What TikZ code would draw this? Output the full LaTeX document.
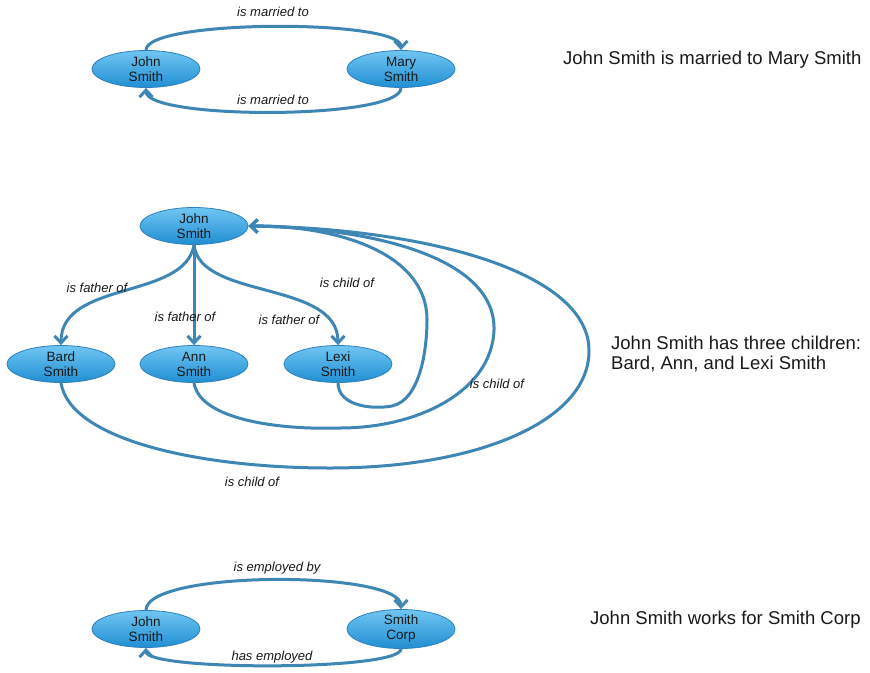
\documentclass[tikz,border=0pt]{standalone}
\usepackage{fontspec}
\setmainfont{Liberation Sans}
\usetikzlibrary{arrows.meta,shapes.geometric}
\definecolor{edgeblue}{RGB}{62,134,180}
\definecolor{nodetop}{RGB}{112,198,242}
\definecolor{nodebot}{RGB}{32,142,210}
\definecolor{nodeline}{RGB}{48,128,188}
\definecolor{ink}{RGB}{25,25,25}
\tikzset{
  person/.style={ellipse, minimum width=108pt, minimum height=37pt, inner sep=0pt,
    top color=nodetop, bottom color=nodebot, draw=nodeline, line width=0.8pt,
    align=center, font=\fontsize{13.5}{15}\selectfont, text=ink},
  rel/.style={draw=edgeblue, line width=3pt, line cap=round,
    -{Straight Barb[length=7pt,width=13pt]}},
  rellabel/.style={font=\fontsize{13}{15}\selectfont\itshape, text=ink, inner sep=1pt},
  caption/.style={font=\fontsize{18.5}{20}\selectfont, text=ink, align=left, inner sep=0pt},
}
\begin{document}
\begin{tikzpicture}[x=1pt,y=-1pt]
\useasboundingbox (0,0) rectangle (870,672);

% --- marriage ---
\node[person] (js1) at (146,69) {John\\Smith};
\node[person] (ms)  at (401,69) {Mary\\Smith};
\draw[rel] (js1.north) .. controls (146,19) and (401,19) .. (ms.north);
\draw[rel] (ms.south) .. controls (401,120) and (146,120) .. (js1.south);
\node[rellabel] (lm1) at (273,12) {is married to};
\node[rellabel] (lm2) at (273,100) {is married to};
\node[caption, anchor=base west] (c1) at (563,64) {John Smith is married to Mary Smith};

% --- family ---
\node[person] (js2)  at (194,226) {John\\Smith};
\node[person] (bard) at (61,364)  {Bard\\Smith};
\node[person] (ann)  at (194,364) {Ann\\Smith};
\node[person] (lexi) at (338,364) {Lexi\\Smith};

\draw[rel] (js2.south) .. controls (185,300) and (61,280) .. (bard.north);
\draw[rel] (js2.south) -- (ann.north);
\draw[rel] (js2.south) .. controls (200,300) and (338,280) .. (lexi.north);

\draw[rel] (lexi.south) .. controls (338,405) and (370,410) .. (392,406)
  .. controls (420,400) and (427,350) .. (427,320)
  .. controls (427,250) and (330,225) .. (js2.east);
\draw[rel] (ann.south) .. controls (200,420) and (280,430) .. (340,428)
  .. controls (420,428) and (492,390) .. (494,330)
  .. controls (496,260) and (380,228) .. (js2.east);
\draw[rel] (bard.south) .. controls (70,440) and (200,468) .. (330,468)
  .. controls (480,468) and (590,420) .. (589,350)
  .. controls (588,270) and (420,228) .. (js2.east);

\node[rellabel] (f1) at (97,288)  {is father of};
\node[rellabel] (f2) at (185,317) {is father of};
\node[rellabel] (f3) at (289,320) {is father of};
\node[rellabel] (k1) at (347,283) {is child of};
\node[rellabel] (k2) at (497,384) {is child of};
\node[rellabel] (k3) at (252,482) {is child of};
\node[caption, anchor=north west] (c2) at (611,336) {John Smith has three children:\\Bard, Ann, and Lexi Smith};

% --- employment ---
\node[person] (js3) at (146,629) {John\\Smith};
\node[person] (sc)  at (401,629) {Smith\\Corp};
\draw[rel] (js3.north) .. controls (146,570) and (401,570) .. (sc.north);
\draw[rel] (sc.south) .. controls (401,671) and (146,671) .. (js3.south);
\node[rellabel] (le1) at (277,568) {is employed by};
\node[rellabel] (le2) at (272,657) {has employed};
\node[caption, anchor=base west] (c3) at (590,624) {John Smith works for Smith Corp};
\end{tikzpicture}
\end{document}
